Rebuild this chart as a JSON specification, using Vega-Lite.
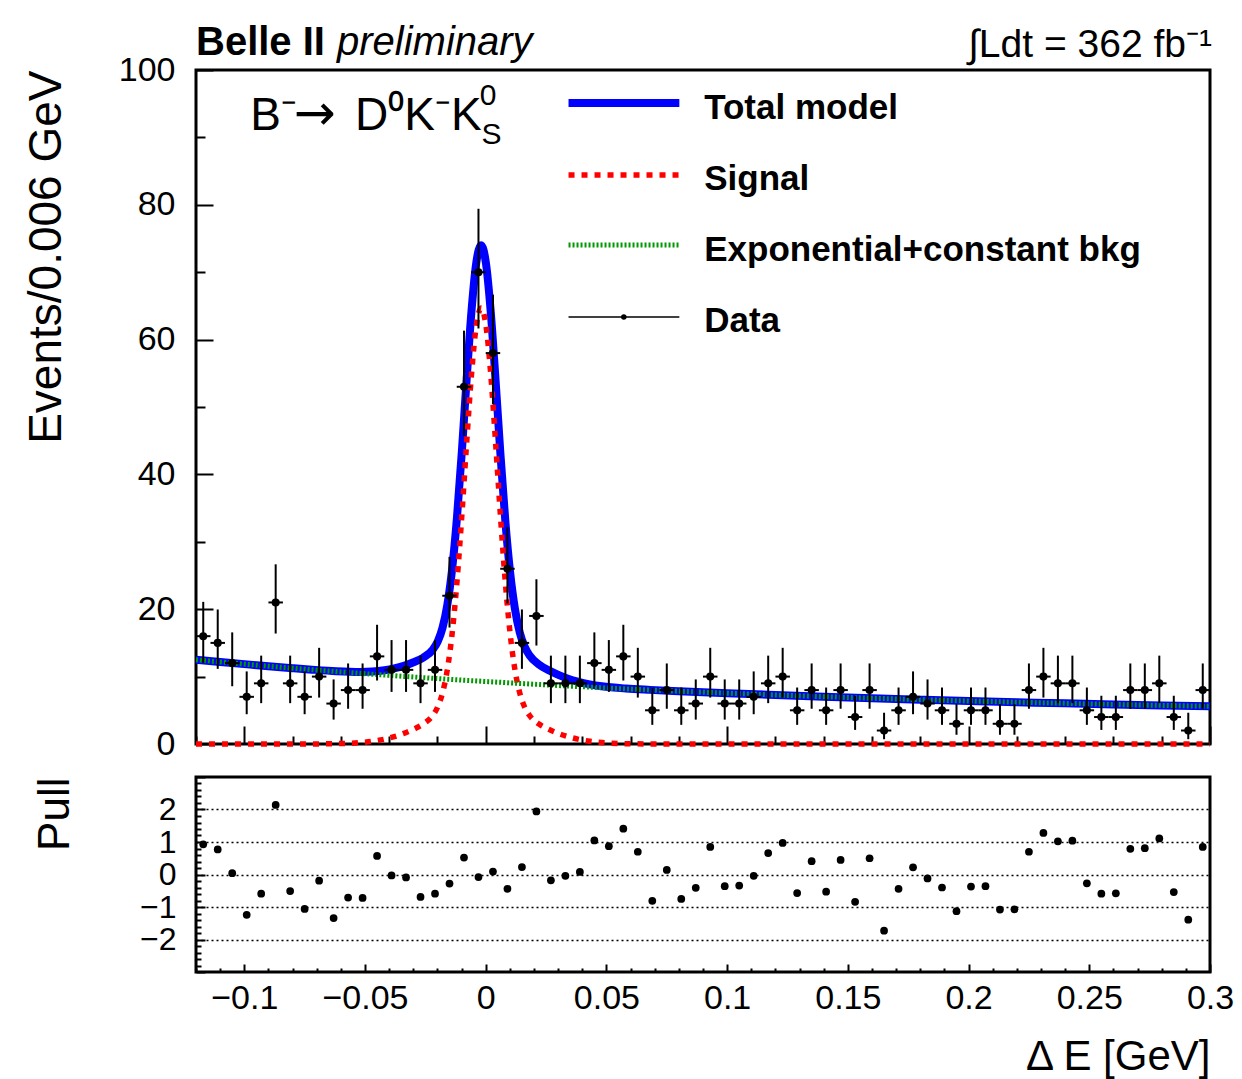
{
  "$schema": "https://vega.github.io/schema/vega-lite/v6.json",
  "background": "white",
  "padding": {"left": 21, "top": 21, "right": 30, "bottom": 5},
  "spacing": 33,
  "bounds": "flush",
  "datasets": {
    "bins": [
      {"x": -0.117, "lo": -0.12, "hi": -0.114, "n": 16, "elo": 12.03, "ehi": 21.09, "pull": 0.93},
      {"x": -0.111, "lo": -0.114, "hi": -0.108, "n": 15, "elo": 11.15, "ehi": 19.96, "pull": 0.77},
      {"x": -0.105, "lo": -0.108, "hi": -0.102, "n": 12, "elo": 8.57, "ehi": 16.56, "pull": 0.04},
      {"x": -0.099, "lo": -0.102, "hi": -0.096, "n": 7, "elo": 4.42, "ehi": 10.77, "pull": -1.24},
      {"x": -0.093, "lo": -0.096, "hi": -0.09, "n": 9, "elo": 6.06, "ehi": 13.11, "pull": -0.59},
      {"x": -0.087, "lo": -0.09, "hi": -0.084, "n": 21, "elo": 16.39, "ehi": 26.66, "pull": 2.14},
      {"x": -0.081, "lo": -0.084, "hi": -0.078, "n": 9, "elo": 6.06, "ehi": 13.11, "pull": -0.51},
      {"x": -0.075, "lo": -0.078, "hi": -0.072, "n": 7, "elo": 4.42, "ehi": 10.77, "pull": -1.06},
      {"x": -0.069, "lo": -0.072, "hi": -0.066, "n": 10, "elo": 6.89, "ehi": 14.27, "pull": -0.19},
      {"x": -0.063, "lo": -0.066, "hi": -0.06, "n": 6, "elo": 3.62, "ehi": 9.58, "pull": -1.34},
      {"x": -0.057, "lo": -0.06, "hi": -0.054, "n": 8, "elo": 5.23, "ehi": 11.95, "pull": -0.71},
      {"x": -0.051, "lo": -0.054, "hi": -0.048, "n": 8, "elo": 5.23, "ehi": 11.95, "pull": -0.72},
      {"x": -0.045, "lo": -0.048, "hi": -0.042, "n": 13, "elo": 9.42, "ehi": 17.69, "pull": 0.57},
      {"x": -0.039, "lo": -0.042, "hi": -0.036, "n": 11, "elo": 7.73, "ehi": 15.42, "pull": -0.03},
      {"x": -0.033, "lo": -0.036, "hi": -0.03, "n": 11, "elo": 7.73, "ehi": 15.42, "pull": -0.09},
      {"x": -0.027, "lo": -0.03, "hi": -0.024, "n": 9, "elo": 6.06, "ehi": 13.11, "pull": -0.69},
      {"x": -0.021, "lo": -0.024, "hi": -0.018, "n": 11, "elo": 7.73, "ehi": 15.42, "pull": -0.59},
      {"x": -0.015, "lo": -0.018, "hi": -0.012, "n": 22, "elo": 17.28, "ehi": 27.77, "pull": -0.28},
      {"x": -0.009, "lo": -0.012, "hi": -0.006, "n": 53, "elo": 45.74, "ehi": 61.33, "pull": 0.52},
      {"x": -0.003, "lo": -0.006, "hi": 0.0, "n": 70, "elo": 61.65, "ehi": 79.41, "pull": -0.08},
      {"x": 0.003, "lo": 0.0, "hi": 0.006, "n": 58, "elo": 50.4, "ehi": 66.67, "pull": 0.09},
      {"x": 0.009, "lo": 0.006, "hi": 0.012, "n": 26, "elo": 20.88, "ehi": 32.17, "pull": -0.44},
      {"x": 0.015, "lo": 0.012, "hi": 0.018, "n": 15, "elo": 11.15, "ehi": 19.96, "pull": 0.23},
      {"x": 0.021, "lo": 0.018, "hi": 0.024, "n": 19, "elo": 14.61, "ehi": 24.44, "pull": 1.94},
      {"x": 0.027, "lo": 0.024, "hi": 0.03, "n": 9, "elo": 6.06, "ehi": 13.11, "pull": -0.18},
      {"x": 0.033, "lo": 0.03, "hi": 0.036, "n": 9, "elo": 6.06, "ehi": 13.11, "pull": -0.04},
      {"x": 0.039, "lo": 0.036, "hi": 0.042, "n": 9, "elo": 6.06, "ehi": 13.11, "pull": 0.08},
      {"x": 0.045, "lo": 0.042, "hi": 0.048, "n": 12, "elo": 8.57, "ehi": 16.56, "pull": 1.05},
      {"x": 0.051, "lo": 0.048, "hi": 0.054, "n": 11, "elo": 7.73, "ehi": 15.42, "pull": 0.87},
      {"x": 0.057, "lo": 0.054, "hi": 0.06, "n": 13, "elo": 9.42, "ehi": 17.69, "pull": 1.41},
      {"x": 0.063, "lo": 0.06, "hi": 0.066, "n": 10, "elo": 6.89, "ehi": 14.27, "pull": 0.7},
      {"x": 0.069, "lo": 0.066, "hi": 0.072, "n": 5, "elo": 2.84, "ehi": 8.38, "pull": -0.81},
      {"x": 0.075, "lo": 0.072, "hi": 0.078, "n": 8, "elo": 5.23, "ehi": 11.95, "pull": 0.14},
      {"x": 0.081, "lo": 0.078, "hi": 0.084, "n": 5, "elo": 2.84, "ehi": 8.38, "pull": -0.75},
      {"x": 0.087, "lo": 0.084, "hi": 0.09, "n": 6, "elo": 3.62, "ehi": 9.58, "pull": -0.41},
      {"x": 0.093, "lo": 0.09, "hi": 0.096, "n": 10, "elo": 6.89, "ehi": 14.27, "pull": 0.85},
      {"x": 0.099, "lo": 0.096, "hi": 0.102, "n": 6, "elo": 3.62, "ehi": 9.58, "pull": -0.36},
      {"x": 0.105, "lo": 0.102, "hi": 0.108, "n": 6, "elo": 3.62, "ehi": 9.58, "pull": -0.34},
      {"x": 0.111, "lo": 0.108, "hi": 0.114, "n": 7, "elo": 4.42, "ehi": 10.77, "pull": -0.04},
      {"x": 0.117, "lo": 0.114, "hi": 0.12, "n": 9, "elo": 6.06, "ehi": 13.11, "pull": 0.66},
      {"x": 0.123, "lo": 0.12, "hi": 0.126, "n": 10, "elo": 6.89, "ehi": 14.27, "pull": 0.97},
      {"x": 0.129, "lo": 0.126, "hi": 0.132, "n": 5, "elo": 2.84, "ehi": 8.38, "pull": -0.57},
      {"x": 0.135, "lo": 0.132, "hi": 0.138, "n": 8, "elo": 5.23, "ehi": 11.95, "pull": 0.41},
      {"x": 0.141, "lo": 0.138, "hi": 0.144, "n": 5, "elo": 2.84, "ehi": 8.38, "pull": -0.53},
      {"x": 0.147, "lo": 0.144, "hi": 0.15, "n": 8, "elo": 5.23, "ehi": 11.95, "pull": 0.45},
      {"x": 0.153, "lo": 0.15, "hi": 0.156, "n": 4, "elo": 2.09, "ehi": 7.16, "pull": -0.84},
      {"x": 0.159, "lo": 0.156, "hi": 0.162, "n": 8, "elo": 5.23, "ehi": 11.95, "pull": 0.5},
      {"x": 0.165, "lo": 0.162, "hi": 0.168, "n": 2, "elo": 0.71, "ehi": 4.64, "pull": -1.73},
      {"x": 0.171, "lo": 0.168, "hi": 0.174, "n": 5, "elo": 2.84, "ehi": 8.38, "pull": -0.44},
      {"x": 0.177, "lo": 0.174, "hi": 0.18, "n": 7, "elo": 4.42, "ehi": 10.77, "pull": 0.22},
      {"x": 0.183, "lo": 0.18, "hi": 0.186, "n": 6, "elo": 3.62, "ehi": 9.58, "pull": -0.12},
      {"x": 0.189, "lo": 0.186, "hi": 0.192, "n": 5, "elo": 2.84, "ehi": 8.38, "pull": -0.4},
      {"x": 0.195, "lo": 0.192, "hi": 0.198, "n": 3, "elo": 1.37, "ehi": 5.92, "pull": -1.13},
      {"x": 0.201, "lo": 0.198, "hi": 0.204, "n": 5, "elo": 2.84, "ehi": 8.38, "pull": -0.37},
      {"x": 0.207, "lo": 0.204, "hi": 0.21, "n": 5, "elo": 2.84, "ehi": 8.38, "pull": -0.36},
      {"x": 0.213, "lo": 0.21, "hi": 0.216, "n": 3, "elo": 1.37, "ehi": 5.92, "pull": -1.08},
      {"x": 0.219, "lo": 0.216, "hi": 0.222, "n": 3, "elo": 1.37, "ehi": 5.92, "pull": -1.07},
      {"x": 0.225, "lo": 0.222, "hi": 0.228, "n": 8, "elo": 5.23, "ehi": 11.95, "pull": 0.7},
      {"x": 0.231, "lo": 0.228, "hi": 0.234, "n": 10, "elo": 6.89, "ehi": 14.27, "pull": 1.28},
      {"x": 0.237, "lo": 0.234, "hi": 0.24, "n": 9, "elo": 6.06, "ehi": 13.11, "pull": 1.02},
      {"x": 0.243, "lo": 0.24, "hi": 0.246, "n": 9, "elo": 6.06, "ehi": 13.11, "pull": 1.04},
      {"x": 0.249, "lo": 0.246, "hi": 0.252, "n": 5, "elo": 2.84, "ehi": 8.38, "pull": -0.27},
      {"x": 0.255, "lo": 0.252, "hi": 0.258, "n": 4, "elo": 2.09, "ehi": 7.16, "pull": -0.59},
      {"x": 0.261, "lo": 0.258, "hi": 0.264, "n": 4, "elo": 2.09, "ehi": 7.16, "pull": -0.58},
      {"x": 0.267, "lo": 0.264, "hi": 0.27, "n": 8, "elo": 5.23, "ehi": 11.95, "pull": 0.79},
      {"x": 0.273, "lo": 0.27, "hi": 0.276, "n": 8, "elo": 5.23, "ehi": 11.95, "pull": 0.81},
      {"x": 0.279, "lo": 0.276, "hi": 0.282, "n": 9, "elo": 6.06, "ehi": 13.11, "pull": 1.11},
      {"x": 0.285, "lo": 0.282, "hi": 0.288, "n": 4, "elo": 2.09, "ehi": 7.16, "pull": -0.54},
      {"x": 0.291, "lo": 0.288, "hi": 0.294, "n": 2, "elo": 0.71, "ehi": 4.64, "pull": -1.39},
      {"x": 0.297, "lo": 0.294, "hi": 0.3, "n": 8, "elo": 5.23, "ehi": 11.95, "pull": 0.85}
    ],
    "curve": [
      {"x": -0.12, "sig": 0, "bkg": 12.5, "tot": 12.5},
      {"x": -0.11, "sig": 0, "bkg": 12.17, "tot": 12.17},
      {"x": -0.1, "sig": 0, "bkg": 11.85, "tot": 11.85},
      {"x": -0.09, "sig": 0, "bkg": 11.54, "tot": 11.54},
      {"x": -0.08, "sig": 0, "bkg": 11.25, "tot": 11.25},
      {"x": -0.0719, "sig": 0.01, "bkg": 11.02, "tot": 11.03},
      {"x": -0.0619, "sig": 0.05, "bkg": 10.75, "tot": 10.8},
      {"x": -0.0519, "sig": 0.21, "bkg": 10.48, "tot": 10.69},
      {"x": -0.0469, "sig": 0.4, "bkg": 10.35, "tot": 10.75},
      {"x": -0.0419, "sig": 0.72, "bkg": 10.23, "tot": 10.95},
      {"x": -0.0379, "sig": 1.09, "bkg": 10.13, "tot": 11.22},
      {"x": -0.0339, "sig": 1.57, "bkg": 10.03, "tot": 11.6},
      {"x": -0.0299, "sig": 2.18, "bkg": 9.94, "tot": 12.12},
      {"x": -0.0259, "sig": 2.96, "bkg": 9.84, "tot": 12.8},
      {"x": -0.0219, "sig": 4.26, "bkg": 9.75, "tot": 14.01},
      {"x": -0.0199, "sig": 5.49, "bkg": 9.71, "tot": 15.2},
      {"x": -0.0179, "sig": 7.57, "bkg": 9.66, "tot": 17.23},
      {"x": -0.0159, "sig": 11.03, "bkg": 9.62, "tot": 20.65},
      {"x": -0.0139, "sig": 16.42, "bkg": 9.57, "tot": 25.99},
      {"x": -0.0119, "sig": 24.09, "bkg": 9.53, "tot": 33.62},
      {"x": -0.0099, "sig": 33.85, "bkg": 9.48, "tot": 43.33},
      {"x": -0.0079, "sig": 44.68, "bkg": 9.44, "tot": 54.12},
      {"x": -0.0059, "sig": 54.79, "bkg": 9.4, "tot": 64.19},
      {"x": -0.0039, "sig": 62.06, "bkg": 9.36, "tot": 71.42},
      {"x": -0.0019, "sig": 64.7, "bkg": 9.31, "tot": 74.01},
      {"x": 0.0001, "sig": 62.06, "bkg": 9.27, "tot": 71.33},
      {"x": 0.0021, "sig": 54.79, "bkg": 9.23, "tot": 64.02},
      {"x": 0.0041, "sig": 44.68, "bkg": 9.19, "tot": 53.87},
      {"x": 0.0061, "sig": 33.85, "bkg": 9.15, "tot": 43.0},
      {"x": 0.0081, "sig": 24.09, "bkg": 9.11, "tot": 33.2},
      {"x": 0.0101, "sig": 16.42, "bkg": 9.06, "tot": 25.48},
      {"x": 0.0121, "sig": 11.03, "bkg": 9.02, "tot": 20.05},
      {"x": 0.0141, "sig": 7.57, "bkg": 8.98, "tot": 16.55},
      {"x": 0.0161, "sig": 5.49, "bkg": 8.95, "tot": 14.44},
      {"x": 0.0181, "sig": 4.26, "bkg": 8.91, "tot": 13.17},
      {"x": 0.0221, "sig": 2.96, "bkg": 8.83, "tot": 11.79},
      {"x": 0.0261, "sig": 2.18, "bkg": 8.75, "tot": 10.93},
      {"x": 0.0301, "sig": 1.57, "bkg": 8.68, "tot": 10.25},
      {"x": 0.0341, "sig": 1.09, "bkg": 8.6, "tot": 9.69},
      {"x": 0.0381, "sig": 0.72, "bkg": 8.53, "tot": 9.25},
      {"x": 0.0431, "sig": 0.4, "bkg": 8.44, "tot": 8.84},
      {"x": 0.0481, "sig": 0.21, "bkg": 8.35, "tot": 8.56},
      {"x": 0.0581, "sig": 0.05, "bkg": 8.18, "tot": 8.23},
      {"x": 0.0681, "sig": 0.01, "bkg": 8.02, "tot": 8.03},
      {"x": 0.08, "sig": 0, "bkg": 7.83, "tot": 7.83},
      {"x": 0.1, "sig": 0, "bkg": 7.54, "tot": 7.54},
      {"x": 0.12, "sig": 0, "bkg": 7.27, "tot": 7.27},
      {"x": 0.14, "sig": 0, "bkg": 7.02, "tot": 7.02},
      {"x": 0.16, "sig": 0, "bkg": 6.79, "tot": 6.79},
      {"x": 0.18, "sig": 0, "bkg": 6.58, "tot": 6.58},
      {"x": 0.2, "sig": 0, "bkg": 6.38, "tot": 6.38},
      {"x": 0.22, "sig": 0, "bkg": 6.2, "tot": 6.2},
      {"x": 0.24, "sig": 0, "bkg": 6.03, "tot": 6.03},
      {"x": 0.26, "sig": 0, "bkg": 5.87, "tot": 5.87},
      {"x": 0.28, "sig": 0, "bkg": 5.73, "tot": 5.73},
      {"x": 0.3, "sig": 0, "bkg": 5.6, "tot": 5.6}
    ]
  },
  "vconcat": [
    {
      "width": 1014,
      "height": 674,
      "layer": [
        {
          "data": {"name": "curve"},
          "mark": {"type": "line", "color": "#0000ff", "strokeWidth": 8, "interpolate": "monotone"},
          "encoding": {
            "x": {
              "field": "x", "type": "quantitative",
              "scale": {"domain": [-0.12, 0.3], "nice": false, "zero": false},
              "axis": {
                "values": [-0.12,-0.11,-0.1,-0.09,-0.08,-0.07,-0.06,-0.05,-0.04,-0.03,-0.02,-0.01,0,0.01,0.02,0.03,0.04,0.05,0.06,0.07,0.08,0.09,0.1,0.11,0.12,0.13,0.14,0.15,0.16,0.17,0.18,0.19,0.2,0.21,0.22,0.23,0.24,0.25,0.26,0.27,0.28,0.29,0.3],
                "labels": false,
                "title": null,
                "tickSize": {"condition": {"test": "abs(datum.value*20 - round(datum.value*20)) < 0.01", "value": -18}, "value": -8}
              }
            },
            "y": {
              "field": "tot", "type": "quantitative",
              "scale": {"domain": [0, 100], "nice": false, "zero": true},
              "axis": {
                "values": [0,5,10,15,20,25,30,35,40,45,50,55,60,65,70,75,80,85,90,95,100],
                "labelExpr": "datum.value % 20 === 0 ? datum.label : ''",
                "tickSize": {"condition": {"test": "datum.value % 20 === 0", "value": -17}, "value": -9},
                "labelPadding": 38,
                "labelFontSize": 34,
                "title": "Events/0.006 GeV",
                "titleAnchor": "end",
                "titleFontSize": 46,
                "titlePadding": 48
              }
            }
          }
        },
        {
          "data": {"name": "curve"},
          "mark": {"type": "line", "color": "#ff0000", "strokeWidth": 5.5, "strokeDash": [6, 7], "interpolate": "monotone"},
          "encoding": {
            "x": {"field": "x", "type": "quantitative"},
            "y": {"field": "sig", "type": "quantitative"}
          }
        },
        {
          "data": {"name": "curve"},
          "mark": {"type": "line", "color": "#009900", "strokeWidth": 5, "strokeDash": [2, 2], "interpolate": "monotone"},
          "encoding": {
            "x": {"field": "x", "type": "quantitative"},
            "y": {"field": "bkg", "type": "quantitative"}
          }
        },
        {
          "data": {"name": "bins"},
          "mark": {"type": "rule", "color": "black", "strokeWidth": 2},
          "encoding": {
            "x": {"field": "x", "type": "quantitative"},
            "y": {"field": "elo", "type": "quantitative"},
            "y2": {"field": "ehi"}
          }
        },
        {
          "data": {"name": "bins"},
          "mark": {"type": "rule", "color": "black", "strokeWidth": 2},
          "encoding": {
            "x": {"field": "lo", "type": "quantitative"},
            "x2": {"field": "hi"},
            "y": {"field": "n", "type": "quantitative"}
          }
        },
        {
          "data": {"name": "bins"},
          "mark": {"type": "point", "filled": true, "color": "black", "opacity": 1, "size": 65},
          "encoding": {
            "x": {"field": "x", "type": "quantitative"},
            "y": {"field": "n", "type": "quantitative"}
          }
        },
        {
          "data": {"values": [{}]},
          "mark": {"type": "text", "text": "Belle II", "align": "left", "baseline": "alphabetic", "fontSize": 40, "fontWeight": "bold", "font": "Liberation Sans"},
          "encoding": {"x": {"datum": -0.12}, "y": {"datum": 102.2}}
        },
        {
          "data": {"values": [{}]},
          "mark": {"type": "text", "text": "preliminary", "align": "left", "baseline": "alphabetic", "fontSize": 40, "fontStyle": "italic", "font": "Liberation Sans"},
          "encoding": {"x": {"datum": -0.0616}, "y": {"datum": 102.2}}
        },
        {
          "data": {"values": [{}]},
          "mark": {"type": "text", "text": "∫Ldt = 362 fb⁻¹", "align": "right", "baseline": "alphabetic", "fontSize": 39, "font": "Liberation Sans"},
          "encoding": {"x": {"datum": 0.3008}, "y": {"datum": 102.0}}
        },
        {
          "data": {"values": [{}]},
          "mark": {"type": "text", "text": "B⁻", "align": "left", "baseline": "alphabetic", "fontSize": 46, "font": "Liberation Sans"},
          "encoding": {"x": {"datum": -0.0975}, "y": {"datum": 91.1}}
        },
        {
          "data": {"values": [{}]},
          "mark": {"type": "text", "text": "→", "align": "left", "baseline": "alphabetic", "fontSize": 50, "font": "DejaVu Sans"},
          "encoding": {"x": {"datum": -0.0795}, "y": {"datum": 91.1}}
        },
        {
          "data": {"values": [{}]},
          "mark": {"type": "text", "text": "D⁰K⁻K", "align": "left", "baseline": "alphabetic", "fontSize": 46, "font": "Liberation Sans"},
          "encoding": {"x": {"datum": -0.0541}, "y": {"datum": 91.1}}
        },
        {
          "data": {"values": [{}]},
          "mark": {"type": "text", "text": "0", "align": "left", "baseline": "alphabetic", "fontSize": 30, "font": "Liberation Sans"},
          "encoding": {"x": {"datum": -0.0025}, "y": {"datum": 94.8}}
        },
        {
          "data": {"values": [{}]},
          "mark": {"type": "text", "text": "S", "align": "left", "baseline": "alphabetic", "fontSize": 30, "font": "Liberation Sans"},
          "encoding": {"x": {"datum": -0.0017}, "y": {"datum": 89.0}}
        },
        {
          "data": {"values": [{}]},
          "mark": {"type": "rule", "color": "#0000ff", "strokeWidth": 8},
          "encoding": {"x": {"datum": 0.0343}, "x2": {"datum": 0.0802}, "y": {"datum": 95.1}}
        },
        {
          "data": {"values": [{}]},
          "mark": {"type": "rule", "color": "#ff0000", "strokeWidth": 5.5, "strokeDash": [6, 7]},
          "encoding": {"x": {"datum": 0.0343}, "x2": {"datum": 0.0802}, "y": {"datum": 84.42}}
        },
        {
          "data": {"values": [{}]},
          "mark": {"type": "rule", "color": "#009900", "strokeWidth": 5, "strokeDash": [2, 2]},
          "encoding": {"x": {"datum": 0.0343}, "x2": {"datum": 0.0802}, "y": {"datum": 74.04}}
        },
        {
          "data": {"values": [{}]},
          "mark": {"type": "rule", "color": "black", "strokeWidth": 1.5},
          "encoding": {"x": {"datum": 0.0343}, "x2": {"datum": 0.0802}, "y": {"datum": 63.35}}
        },
        {
          "data": {"values": [{}]},
          "mark": {"type": "point", "filled": true, "color": "black", "opacity": 1, "size": 30},
          "encoding": {"x": {"datum": 0.0572}, "y": {"datum": 63.35}}
        },
        {
          "data": {"values": [{}]},
          "mark": {"type": "text", "text": "Total model", "align": "left", "baseline": "alphabetic", "fontSize": 35, "fontWeight": "bold", "font": "Liberation Sans"},
          "encoding": {"x": {"datum": 0.0905}, "y": {"datum": 92.73}}
        },
        {
          "data": {"values": [{}]},
          "mark": {"type": "text", "text": "Signal", "align": "left", "baseline": "alphabetic", "fontSize": 35, "fontWeight": "bold", "font": "Liberation Sans"},
          "encoding": {"x": {"datum": 0.0905}, "y": {"datum": 82.2}}
        },
        {
          "data": {"values": [{}]},
          "mark": {"type": "text", "text": "Exponential+constant bkg", "align": "left", "baseline": "alphabetic", "fontSize": 35, "fontWeight": "bold", "font": "Liberation Sans"},
          "encoding": {"x": {"datum": 0.0905}, "y": {"datum": 71.66}}
        },
        {
          "data": {"values": [{}]},
          "mark": {"type": "text", "text": "Data", "align": "left", "baseline": "alphabetic", "fontSize": 35, "fontWeight": "bold", "font": "Liberation Sans"},
          "encoding": {"x": {"datum": 0.0905}, "y": {"datum": 61.13}}
        }
      ]
    },
    {
      "width": 1014,
      "height": 195,
      "data": {"name": "bins"},
      "mark": {"type": "point", "filled": true, "color": "black", "opacity": 1, "size": 60},
      "encoding": {
        "x": {
          "field": "x", "type": "quantitative",
          "scale": {"domain": [-0.12, 0.3], "nice": false, "zero": false},
          "axis": {
            "values": [-0.12,-0.11,-0.1,-0.09,-0.08,-0.07,-0.06,-0.05,-0.04,-0.03,-0.02,-0.01,0,0.01,0.02,0.03,0.04,0.05,0.06,0.07,0.08,0.09,0.1,0.11,0.12,0.13,0.14,0.15,0.16,0.17,0.18,0.19,0.2,0.21,0.22,0.23,0.24,0.25,0.26,0.27,0.28,0.29,0.3],
            "labelExpr": "abs(datum.value*20 - round(datum.value*20)) < 0.01 ? format(datum.value, '~g') : ''",
            "tickSize": {"condition": {"test": "abs(datum.value*20 - round(datum.value*20)) < 0.01", "value": -8}, "value": -4},
            "labelPadding": 17,
            "labelFontSize": 34,
            "labelFlush": false,
            "labelOverlap": false,
            "title": "Δ E [GeV]",
            "titleAnchor": "end",
            "titleFontSize": 42,
            "titlePadding": 17
          }
        },
        "y": {
          "field": "pull", "type": "quantitative",
          "scale": {"domain": [-3, 3], "nice": false, "zero": false},
          "axis": {
            "values": [-3,-2.8,-2.6,-2.4,-2.2,-2,-1.8,-1.6,-1.4,-1.2,-1,-0.8,-0.6,-0.4,-0.2,0,0.2,0.4,0.6,0.8,1,1.2,1.4,1.6,1.8,2,2.2,2.4,2.6,2.8,3],
            "labelExpr": "abs(datum.value - round(datum.value)) < 0.01 && abs(datum.value) < 2.5 ? format(round(datum.value), 'd') : ''",
            "tickSize": {"condition": {"test": "abs(datum.value - round(datum.value)) < 0.01", "value": -9}, "value": -5},
            "labelPadding": 29,
            "labelFontSize": 32,
            "labelOverlap": false,
            "grid": true,
            "gridColor": "black",
            "gridDash": [2, 3],
            "gridWidth": 1.5,
            "gridOpacity": {"condition": {"test": "abs(datum.value - round(datum.value)) < 0.01 && abs(datum.value) < 2.5", "value": 1}, "value": 0},
            "title": "Pull",
            "titleAnchor": "end",
            "titleFontSize": 44,
            "titlePadding": 62
          }
        }
      }
    }
  ],
  "config": {
    "font": "Liberation Sans",
    "view": {"stroke": "black", "strokeWidth": 3},
    "axis": {
      "domain": false,
      "grid": false,
      "labelFont": "Liberation Sans",
      "labelColor": "black",
      "tickColor": "black",
      "tickWidth": 2,
      "titleFont": "Liberation Sans",
      "titleFontWeight": "normal",
      "titleColor": "black"
    }
  }
}
